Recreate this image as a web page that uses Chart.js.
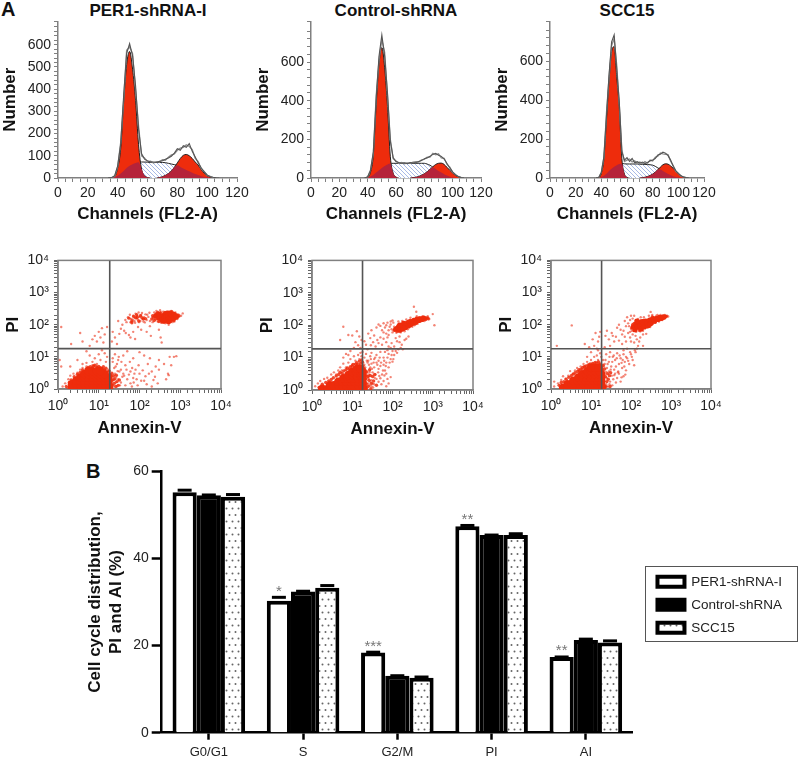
<!DOCTYPE html>
<html>
<head>
<meta charset="utf-8">
<style>
body { margin: 0; background: #fff; font-family: "Liberation Sans", Arial, sans-serif; }
#page { position: relative; width: 799px; height: 757px; overflow: hidden; }
canvas { position: absolute; }
.head { position: absolute; font-weight: bold; font-size: 17px; color: #111; text-align: center; width: 200px; line-height: 20px; top: 1px; }
.letter { position: absolute; font-weight: bold; font-size: 20px; color: #111; }
</style>
<script src="https://cdn.jsdelivr.net/npm/chart.js"></script>
</head>
<body>
<div id="page">
  <div class="letter" style="left:1px;top:-2px">A</div>
  <div class="letter" style="left:86px;top:460px">B</div>
  <div class="head" style="left:48px">PER1-shRNA-I</div>
  <div class="head" style="left:296px">Control-shRNA</div>
  <div class="head" style="left:527px">SCC15</div>
</div>
<script>
// histogram data, one value per channel bin
const channels = [34,36,38,40,42,44,46,48,50,52,54,56,58,60,62,64,66,68,70,72,74,76,78,80,82,84,86,88,90,92,94,96,98,100,102,104,106,108,110];

const h1G1 = [0,1,6,45,130,340,510,570,490,350,150,40,10,2,0,0,0,0,0,0,0,0,0,0,0,0,0,0,0,0,0,0,0,0,0,0,0,0,0];
const h1S = [0,1,5,10,20,32,45,55,62,68,71,72,72,71,70,70,70,70,70,69,66,63,60,57,50,43,36,30,24,18,13,8,5,3,1,0,0,0,0];
const h1G2 = [0,0,0,0,0,0,0,0,0,0,0,0,0,0,0,0,0,2,6,12,20,32,48,68,88,102,106,100,88,72,58,38,22,10,4,1,0,0,0];
const h1Overlap = [0,1,5,10,20,32,45,55,62,68,71,40,10,2,0,0,0,2,6,12,20,32,48,57,50,43,36,30,24,18,13,8,5,3,1,0,0,0,0];
const h1Raw = [0,2,10,55,150,370,560,605,550,415,220,110,85,78,72,72,70,75,78,84,90,98,112,132,125,145,138,155,120,95,68,46,28,14,6,3,1,0,0];
const h1RawB = [0,1,8,50,160,350,575,590,560,395,235,100,90,74,76,68,74,72,82,80,94,104,108,125,135,138,150,142,128,88,74,42,30,12,7,2,1,0,0];

const h2G1 = [0,0,0,4,30,120,380,590,675,570,370,110,25,5,0,0,0,0,0,0,0,0,0,0,0,0,0,0,0,0,0,0,0,0,0,0,0,0,0];
const h2S = [0,0,0,3,8,15,28,40,52,62,70,75,76,76,76,76,76,76,76,76,76,76,76,76,72,66,56,46,36,28,20,13,7,3,1,0,0,0,0];
const h2G2 = [0,0,0,0,0,0,0,0,0,0,0,0,0,0,0,0,0,0,0,2,4,8,14,22,32,45,58,70,76,77,70,55,40,26,14,6,2,0,0];
const h2Overlap = [0,0,0,3,8,15,28,40,52,62,70,75,25,5,0,0,0,0,0,2,4,8,14,22,32,45,56,46,36,28,20,13,7,3,1,0,0,0,0];
const h2Raw = [0,0,0,6,38,135,410,630,740,630,440,190,105,85,80,76,78,74,80,78,80,85,90,100,104,112,122,128,118,112,98,75,52,32,16,8,3,0,0];
const h2RawB = [0,0,0,5,42,128,425,610,715,650,425,200,100,88,76,80,74,78,76,82,84,82,94,96,108,108,128,120,125,104,102,70,56,28,18,7,3,0,0];

const h3G1 = [0,0,2,25,100,300,500,650,675,520,360,100,20,3,0,0,0,0,0,0,0,0,0,0,0,0,0,0,0,0,0,0,0,0,0,0,0,0,0];
const h3S = [0,0,1,5,12,22,36,48,58,66,72,75,73,72,72,72,72,72,71,70,70,69,68,66,60,52,44,36,28,20,14,9,5,2,1,0,0,0,0];
const h3G2 = [0,0,0,0,0,0,0,0,0,0,0,0,0,0,0,0,0,0,0,2,4,8,13,20,30,42,56,68,73,71,62,50,36,24,12,5,2,0,0];
const h3Overlap = [0,0,1,5,12,22,36,48,58,66,72,75,20,3,0,0,0,0,0,2,4,8,13,20,30,42,44,36,28,20,14,9,5,2,1,0,0,0,0];
const h3Raw = [0,0,3,28,110,320,530,700,736,560,390,135,92,105,85,100,78,84,76,82,74,80,88,92,100,118,122,133,128,115,92,60,38,22,12,5,2,0,0];
const h3RawB = [0,0,2,30,105,335,515,680,718,580,375,145,85,92,98,82,88,76,82,74,84,76,92,88,106,112,128,124,122,120,86,64,34,24,10,6,2,0,0];

// flow cytometry dots [annexin, PI]
const s1Core = [[2.2,1.1],[2.8,1.1],[3.5,1.1],[4.4,1.1],[5.5,1.1],[7,1.1],[9,1.1],[11,1.1],[14,1.1],[17.5,1.1],[2.2,1.4],[2.8,1.4],[3.5,1.4],[4.4,1.4],[5.5,1.4],[7,1.4],[9,1.4],[11,1.4],[14,1.4],[17.5,1.4],[2.8,1.8],[3.5,1.8],[4.4,1.8],[5.5,1.8],[7,1.8],[9,1.8],[11,1.8],[14,1.8],[17.5,1.8],[3.5,2.3],[4.4,2.3],[5.5,2.3],[7,2.3],[9,2.3],[11,2.3],[14,2.3],[17,2.3],[4.4,2.9],[5.5,2.9],[7,2.9],[9,2.9],[11,2.9],[14,2.9],[5.5,3.6],[7,3.6],[9,3.6],[11,3.6]];
const s1Cluster = [[250,190],[300,160],[300,210],[350,180],[350,140],[400,200],[400,160],[450,220],[450,175],[500,150],[500,195],[550,230],[550,170],[600,200],[600,150],[650,180],[700,210],[700,160],[780,185],[400,130],[520,125]];
const s1Edge = [[1.6,1.2],[1.9,1.6],[2,1.15],[2.1,1.9],[2.5,2.4],[2.7,2.0],[3,2.9],[3.4,2.6],[3.5,3.3],[4,3.9],[4.4,3.4],[5,4.3],[5.5,4.7],[6.2,4.9],[7,4.6],[7.5,5.2],[8,5.5],[9,4.8],[10,5],[11,4.6],[12,4.3],[13,4.9],[14,3.9],[15,4.4],[16,3.4],[18,3.6],[19,2.8],[20,2.5],[21,3.1],[22,1.9],[22,1.3],[24,1.5],[23,2.6],[25,2.1],[26,1.2],[28,1.7],[30,1.3],[21,1.1],[27,2.7],[32,1.9],
[55,160],[65,130],[72,180],[80,165],[88,170],[96,130],[105,190],[115,165],[125,150],[65,115],[85,205],[140,155],
[200,150],[210,190],[220,170],[230,135],[250,150],[260,220],[280,240],[300,125],[330,235],[370,120],[420,240],[480,120],[500,245],[580,125],[650,230],[690,135],[740,200],[800,160],[820,200],[860,180],[920,190],[620,255]];
const s1Sparse = [[45,140],[52,170],[60,120],[62,150],[70,190],[75,130],[80,220],[85,160],[90,145],[95,240],[100,175],[105,130],[110,200],[120,150],[125,125],[130,170],[140,210],[150,140],[165,175],[180,130],[48,120],[58,205],[68,145],[78,115],[88,190],[98,120],[115,230],[135,118],[155,205],[175,235],
[210,120],[230,240],[260,270],[280,125],[320,280],[340,115],[380,255],[430,110],[470,260],[520,100],[600,270],[640,120],[720,125],[760,240],[850,150],[900,210],[950,180],[1050,190],[1150,225],[880,165],
[38,100],[35,75],[30,130],[42,65],[46,55],[55,48],[60,40],[70,60],[78,36],[92,85],[110,70],[150,60],[190,45],[180,90],[300,70],[330,40],[350,28],[25,40],[28,25],[32,52],[22,60],[21,30],
[1.2,85],[3.5,55],[6,22],[8,45],[10,60],[11,40],[12,78],[13,28],[14,50],[16,85],[9,30],[7,35],[4,30],[2.1,25],
[12,16],[10,12],[8,9],[6,11],[5,15],[14,13],[16,10],[15,7],[11,8],[7,7],[9,6],[5,6.5],[4,6],[1.2,5],[1.1,8],[3,8],[2,5],
[25,12],[30,8],[40,11],[50,15],[70,9],[100,14],[130,11],[180,9],[300,8],[550,10],[700,10],[800,10.5],[22,7],[28,6],[35,4],[45,5.5],[60,3.5],[80,4],[100,3],[140,2.5],[200,3.5],[250,5],[300,4],[400,6],[520,2.7],[500,3],[600,5.5],[450,2],[25,3],[30,2],[35,1.6],[40,3],[50,2],[60,1.5],[70,2.2],[90,1.3],[110,1.8],[150,1.4],[200,1.2],[220,1.9],[280,1.5],[21,1.3],[23,2.2],[26,1.6],[24,4.5],[28,1.2],[32,3.5],[38,2.4],[45,1.3],[55,2.8],[65,1.2],[75,3],[85,2],[130,1.8],
[1.3,1.2],[1.5,1.5],[1.7,1.1],[1.8,2],[2,2.6],[2.4,3],[3,3.2],[3.5,4],[4,4.5],[5,5],[6,4.5],[7,5.5],[9,5],[10,4.5],[12,4.5],[14,4],[17,4],[19,3],[20,2],[21,1.1],[19.5,1.5],
[22,9],[26,5],[31,10],[36,7],[42,2.6],[48,4],[58,7],[66,4.5],[72,1.6],[95,5.5],[120,3.8],[160,6],[170,3],[240,2.4],[29,3.6],[33,1.3],[24,1.9],[27,2.4]];

const s2Core = [[1.8,1.1],[2.5,1.1],[3.2,1.1],[4,1.1],[5,1.1],[6.3,1.1],[8,1.1],[10,1.1],[12.5,1.1],[16,1.1],[19,1.1],[2.8,1.4],[3.5,1.4],[4.5,1.4],[5.6,1.4],[7,1.4],[9,1.4],[11,1.4],[14,1.4],[18,1.4],[4.5,1.8],[5.6,1.8],[7,1.8],[9,1.8],[11,1.8],[14,1.8],[18,1.8],[6,2.3],[7.5,2.3],[9,2.3],[11,2.3],[14,2.3],[18,2.3],[8,2.9],[10,2.9],[12.5,2.9],[16,2.9],[18,2.9],[10,3.6],[12.5,3.6],[16,3.6],[18,3.6],[13,4.5],[16,4.5]];
const s2Cluster = [[120,75],[140,85],[150,70],[170,95],[180,80],[200,100],[210,85],[230,110],[250,95],[260,125],[280,105],[300,130],[320,115],[350,140],[380,125],[400,150],[450,140],[480,155],[540,150],[600,165],[190,115],[150,100]];
const s2Edge = [[1.5,1.2],[1.8,1.5],[2.2,1.7],[2.6,1.9],[3,2.1],[3.4,2.4],[4,2.7],[4.6,3],[5,3.5],[5.6,3.3],[6.2,3.9],[7,4.2],[7.6,4.8],[8.5,4.4],[9,5.2],[10,5.4],[10.5,6.2],[12,6.3],[13,7],[14,6],[15,7.8],[16,6.5],[17,8.5],[18,7.2],[18.5,5.5],[20,4.5],[20,3],[21,2.2],[22,1.6],[23,3.6],[24,2.6],[25,1.3],[26,2],[27,4.2],[28,2.8],[30,1.6],[32,2.6],[34,1.9],[36,3],[40,1.4],[21,1.1],[29,1.1],
[110,70],[125,85],[130,65],[135,95],[155,80],[160,105],[185,100],[195,75],[215,120],[225,90],[240,105],[270,140],[290,100],[330,150],[340,125],[370,110],[395,165],[430,130],[460,170],[510,140],[520,170],[570,150],[640,160],[670,150],[720,165],[760,165],[240,130],[175,70]];
const s2Sparse = [[40,85],[45,105],[50,95],[55,70],[60,115],[65,85],[70,100],[75,120],[80,70],[85,90],[90,105],[95,75],[100,60],[105,120],[110,90],[60,60],[70,55],[80,50],[90,130],[100,140],[125,58],[140,130],[160,60],[175,135],[200,65],[220,150],[240,75],[280,170],[310,90],[350,100],[400,190],[420,110],[500,130],[560,190],[620,135],[700,175],[780,150],[750,190],[340,370],[390,260],[1000,220],[1100,100],[820,155],
[25,55],[28,40],[30,70],[33,30],[35,48],[38,22],[42,35],[45,28],[50,42],[55,25],[60,38],[70,30],[75,42],[80,22],[95,28],[110,22],[130,32],[150,30],[170,25],[160,20],[180,18],[200,35],[220,38],[250,45],[150,45],[120,40],[22,25],[20,32],[24,18],[29,24],
[6,90],[5,35],[8,50],[10,48],[12,30],[13,65],[15,45],[11,20],[9,16],[14,24],[16,20],[7,13],[17,35],
[1.2,1.3],[1.4,1.6],[1.6,1.9],[2,2.2],[2.4,2.4],[3,3],[3.5,3.5],[4,3],[4.5,4],[5,5],[5.5,4],[6,6.5],[7,5],[8,7],[9,9],[10,6],[11,11],[12,8],[13,6],[14,12],[15,9],[16,14],[17,11],[18,15],[17,7],[6,10],[8,12],
[20,10],[22,13],[25,8],[28,11],[30,14],[35,9],[40,12],[45,8],[50,15],[60,10],[70,7],[80,13],[90,9],[100,16],[110,12],[20,6],[22,4],[24,7],[26,3],[28,5],[30,6.5],[32,3.5],[35,5],[38,3],[40,7],[45,4.5],[50,5.5],[55,3],[60,6],[65,4],[70,3.2],[80,5],[90,2.5],[100,7.5],[25,1.6],[30,2],[22,1.3],[35,1.5],[40,2.2],[45,1.8],[50,2.3],[60,1.9],[70,1.3],[80,1.6],[22,2.2],[26,2.6],[24,1.2],[33,1.2],[28,1.8],[36,2.4],[30,1.3],[21,1.8],[21,3],[23,1.5],[23,2.8],[25,2.3],[27,1.4],[27,3.6],
[21,5],[23,8],[26,6],[29,9],[31,4.5],[34,7],[37,10],[42,6],[44,3.5],[48,10],[52,7],[58,4],[62,8],[68,5.5],[75,10],[85,7],[95,12],[105,9],[120,16],[130,14],[140,18],[65,15],[75,17],[90,20],[47,2.7],[53,1.5],[63,2.8],[75,2.2],[23,1.1],[32,1.6]];

const s3Core = [[2,1.1],[2.6,1.1],[3.3,1.1],[4,1.1],[5,1.1],[6.3,1.1],[8,1.1],[10,1.1],[12.5,1.1],[16,1.1],[19,1.1],[2.6,1.4],[3.3,1.4],[4.2,1.4],[5.3,1.4],[6.6,1.4],[8.5,1.4],[11,1.4],[14,1.4],[18,1.4],[3.6,1.8],[4.6,1.8],[5.8,1.8],[7.3,1.8],[9,1.8],[11.5,1.8],[14.5,1.8],[18,1.8],[4.8,2.3],[6,2.3],[7.5,2.3],[9.5,2.3],[12,2.3],[15,2.3],[18,2.3],[6,2.9],[7.5,2.9],[9.5,2.9],[12,2.9],[15,2.9],[18,2.9],[8,3.6],[10,3.6],[12.5,3.6],[16,3.6],[10,4.6],[12.5,4.6],[15.5,4.6]];
const s3Cluster = [[115,85],[125,70],[135,105],[145,85],[160,115],[165,90],[180,75],[190,125],[200,100],[215,85],[230,130],[250,110],[270,95],[290,140],[320,120],[350,150],[380,130],[420,155],[470,145],[520,170],[580,160],[650,175],[140,130],[300,105]];
const s3Edge = [[1.6,1.3],[1.8,1.6],[2.1,1.7],[2.4,2],[2.8,2.3],[3.2,2.6],[3.6,2.9],[4,3.2],[4.6,3.5],[5,4],[5.6,4.1],[6.2,4.7],[6.8,4.9],[7.5,5.2],[8.5,5.6],[9.5,6],[11,6.2],[12.5,6.6],[14,6.5],[15.5,7],[17,6],[18,5],[19,4.2],[20,3.6],[20,2.6],[21,1.7],[23,2.4],[23,1.2],[25,1.7],[26,3],[27,2],[29,2.6],[30,1.2],[31,3.2],[20,5.5],[22,4.2],
[105,80],[110,100],[120,110],[125,90],[130,75],[150,120],[155,75],[170,130],[175,95],[190,85],[205,135],[225,100],[245,135],[260,85],[285,115],[310,150],[330,105],[365,165],[400,120],[440,165],[490,170],[550,145],[610,180],[680,160],[720,185],[760,180],[340,175],[170,65]];
const s3Sparse = [[70,130],[80,170],[85,110],[90,90],[95,140],[100,190],[105,65],[75,90],[95,60],[110,155],[120,190],[135,60],[150,150],[155,65],[175,170],[200,65],[210,170],[240,85],[280,190],[300,85],[340,200],[350,105],[410,115],[430,190],[500,125],[550,200],[600,140],[700,200],[740,170],[800,190],[310,250],[850,180],[460,200],
[45,80],[50,100],[55,70],[60,50],[65,65],[70,42],[75,30],[85,55],[95,40],[100,30],[110,50],[120,28],[130,45],[140,35],[150,22],[160,30],[170,40],[200,22],[200,50],[240,52],[100,75],[60,25],[50,32],[42,42],[38,30],[33,55],[28,35],[25,65],[23,45],[22,20],[30,22],[35,45],
[3.3,95],[1.4,22],[7,25],[9,20],[12,22],[13,55],[15,30],[15,16],[17,60],[11,35],[16,42],[14,18],
[1.2,1.2],[1.2,1.7],[1.5,1.5],[1.8,1.9],[2,2.5],[2.3,2.1],[2.7,2.6],[3,3.6],[3.5,3],[4,3.8],[4.5,4.5],[5,3.6],[5.5,5],[6,4.2],[6.5,6],[7,5],[8,7],[9,5.8],[10,8],[11,6],[12,10],[13,7],[14,11],[15,8],[16,6],[17,13],[18,10],[10,14],[8,10],
[20,8],[22,6],[24,12],[25,4.5],[28,7],[30,14],[32,5],[35,10],[38,4],[40,8],[45,13],[50,6],[55,9],[60,4.5],[65,12],[70,7],[75,3.8],[80,9],[90,6],[100,12],[110,8],[130,14],[120,5.5],[22,3],[25,2.2],[28,3.5],[30,1.7],[33,2.6],[36,2],[40,3],[45,2.2],[21,1.3],[24,1.4],[27,1.2],[21,2],[34,1.3],[50,3],[55,1.7],[65,2.5],
[21,5],[23,8],[26,6],[29,10],[31,4],[34,7],[37,11],[42,5],[44,9],[48,3.5],[52,11],[58,6.5],[62,8],[68,5],[75,10],[85,7.5],[95,14],[105,10],[125,16],[140,18],[65,16],[80,18],[24,3.4],[29,1.4],[38,2.7],[42,1.6],[47,3.3],[58,2.3],[72,2.8],[25,1.2]];

const logTickLabels = { 1: '10⁰', 10: '10¹', 100: '10²', 1000: '10³', 10000: '10⁴' };

// bar chart data
const barCategories = ['G0/G1', 'S', 'G2/M', 'PI', 'AI'];
const barSeriesNames = ['PER1-shRNA-I', 'Control-shRNA', 'SCC15'];
const per1Values = [55.2, 30.3, 18.4, 47.4, 17.4];
const controlValues = [54.5, 32.4, 13.1, 45.4, 21.3];
const scc15Values = [54.2, 33.3, 12.6, 45.4, 20.7];
const per1Errors = [0.6, 0.9, 0.2, 0.3, 0.1];
const controlErrors = [0.2, 0.2, 0.1, 0.1, 0.3];
const scc15Errors = [0.6, 0.6, 0.3, 0.4, 0.5];
const per1Marks = ['', '*', '***', '**', '**'];

const page = document.getElementById('page');
const FONT = '"Liberation Sans", Arial, sans-serif';
const AXIS_GREY = '#808080';
const RED = '#ee2c0c';

function addCanvas(left, top, width, height) {
    const c = document.createElement('canvas');
    c.width = width;
    c.height = height;
    c.style.left = left + 'px';
    c.style.top = top + 'px';
    page.appendChild(c);
    return c.getContext('2d');
}

function makePattern(w, h, paint) {
    const tile = document.createElement('canvas');
    tile.width = w;
    tile.height = h;
    const t = tile.getContext('2d');
    t.fillStyle = '#fff';
    t.fillRect(0, 0, w, h);
    paint(t);
    return t.createPattern(tile, 'repeat');
}

const hatch = makePattern(4, 4, t => {
    t.strokeStyle = '#a9bae6';
    t.lineWidth = 1;
    t.beginPath();
    t.moveTo(-1, -1);
    t.lineTo(5, 5);
    t.moveTo(-1, 3);
    t.lineTo(1, 5);
    t.moveTo(3, -1);
    t.lineTo(5, 1);
    t.stroke();
});

const dots = makePattern(6, 13, t => {
    t.fillStyle = '#666';
    t.beginPath();
    t.arc(1.5, 3, 1, 0, Math.PI * 2);
    t.arc(4.5, 9.5, 1, 0, Math.PI * 2);
    t.fill();
});

const toPoints = values => values.map((v, i) => ({ x: channels[i], y: v }));
const hideZero = ctx => (ctx.p0.parsed.y === 0 && ctx.p1.parsed.y === 0 ? 'transparent' : undefined);

function area(values, fill, border, width) {
    return {
        data: toPoints(values),
        fill: 'origin',
        backgroundColor: fill,
        borderColor: border,
        borderWidth: width,
        pointRadius: 0,
        cubicInterpolationMode: 'monotone',
        segment: { borderColor: hideZero }
    };
}

function rawLine(values, color, width) {
    return { data: toPoints(values), borderColor: color, borderWidth: width, pointRadius: 0, fill: false, segment: { borderColor: hideZero } };
}

function histogram(box, yMax, yStep, yLabelStep, series) {
    const ctx = addCanvas(box.left - 58, box.top - 10, box.right - box.left + 58 + 22, box.bottom - box.top + 10 + 47);
    new Chart(ctx, {
        type: 'line',
        data: {
            datasets: [
                rawLine(series.raw, '#555', 1.1),
                rawLine(series.rawB, '#8c8c8c', 1.3),
                area(series.overlap, '#b5233a', 'transparent', 0),
                area(series.g1, RED, '#222', 1),
                area(series.g2, RED, '#222', 1),
                area(series.s, hatch, '#222', 1)
            ]
        },
        options: {
            responsive: false,
            animation: false,
            layout: { padding: { top: 10, right: 22 } },
            plugins: { legend: { display: false }, tooltip: { enabled: false } },
            scales: {
                x: {
                    type: 'linear',
                    min: 0,
                    max: 120,
                    afterFit: s => { s.height = 47; },
                    grid: { drawOnChartArea: false, tickLength: 4, tickColor: AXIS_GREY },
                    border: { color: AXIS_GREY, width: 1.5 },
                    ticks: {
                        stepSize: 5,
                        autoSkip: false,
                        maxRotation: 0,
                        padding: 3,
                        color: '#222',
                        font: { family: FONT, size: 14 },
                        callback: v => (v % 20 === 0 ? v : '')
                    },
                    title: { display: true, text: 'Channels (FL2-A)', color: '#111', padding: 0, font: { family: FONT, size: 17, weight: 'bold' } }
                },
                y: {
                    min: 0,
                    max: yMax,
                    afterFit: s => { s.width = 58; },
                    grid: { drawOnChartArea: false, tickLength: 4, tickColor: AXIS_GREY },
                    border: { color: AXIS_GREY, width: 1.5 },
                    ticks: {
                        stepSize: yStep,
                        autoSkip: false,
                        padding: 3,
                        color: '#222',
                        font: { family: FONT, size: 14 },
                        callback: v => (v % yLabelStep === 0 ? v : '')
                    },
                    title: { display: true, text: 'Number', color: '#111', padding: 0, font: { family: FONT, size: 17, weight: 'bold' } }
                }
            }
        }
    });
}

const framePlugin = {
    id: 'frame',
    beforeDatasetsDraw(chart) {
        const { ctx, chartArea: a } = chart;
        ctx.save();
        ctx.strokeStyle = AXIS_GREY;
        ctx.lineWidth = 1.5;
        ctx.strokeRect(a.left, a.top, a.right - a.left, a.bottom - a.top);
        ctx.restore();
    }
};

const toXY = pairs => pairs.map(p => ({ x: p[0], y: p[1] }));

function dotSet(pairs, radius, color) {
    return { data: toXY(pairs), pointRadius: radius, pointBorderWidth: 0, pointBackgroundColor: color, showLine: false };
}

function gateLine(points) {
    return { data: toXY(points), showLine: true, borderColor: '#555', borderWidth: 1.6, pointRadius: 0 };
}

function logAxis(titleText, side) {
    return {
        type: 'logarithmic',
        min: 1,
        max: 10000,
        afterFit: side === 'x' ? s => { s.height = 50; } : s => { s.width = 55; },
        grid: { drawOnChartArea: false, tickLength: 4, tickColor: '#666' },
        border: { color: AXIS_GREY, width: 1.5 },
        ticks: {
            autoSkip: false,
            maxRotation: 0,
            padding: 5,
            color: '#222',
            font: { family: FONT, size: 14 },
            callback: v => logTickLabels[v] || ''
        },
        title: { display: true, text: titleText, color: '#111', padding: 0, font: { family: FONT, size: 17, weight: 'bold' } }
    };
}

function dotPlot(box, gateX, gateY, core, cluster, edge, sparse) {
    const ctx = addCanvas(box.left - 55, box.top - 10, box.right - box.left + 55 + 22, box.bottom - box.top + 10 + 50);
    new Chart(ctx, {
        type: 'scatter',
        data: {
            datasets: [
                gateLine([[gateX, 1], [gateX, 10000]]),
                gateLine([[1, gateY], [10000, gateY]]),
                dotSet(core, 4.2, RED),
                dotSet(cluster, 2.6, RED),
                dotSet(edge, 1.7, 'rgba(238,44,12,0.85)'),
                dotSet(sparse, 1.2, 'rgba(235,50,25,0.6)')
            ]
        },
        options: {
            responsive: false,
            animation: false,
            layout: { padding: { top: 10, right: 22 } },
            plugins: { legend: { display: false }, tooltip: { enabled: false } },
            scales: { x: logAxis('Annexin-V', 'x'), y: logAxis('PI', 'y') }
        },
        plugins: [framePlugin]
    });
}

histogram({ left: 58, right: 237, top: 20, bottom: 178 }, 705, 20, 100,
    { g1: h1G1, s: h1S, g2: h1G2, overlap: h1Overlap, raw: h1Raw, rawB: h1RawB });
histogram({ left: 311, right: 481, top: 20, bottom: 178 }, 810, 40, 200,
    { g1: h2G1, s: h2S, g2: h2G2, overlap: h2Overlap, raw: h2Raw, rawB: h2RawB });
histogram({ left: 550, right: 704, top: 20, bottom: 178 }, 805, 40, 200,
    { g1: h3G1, s: h3S, g2: h3G2, overlap: h3Overlap, raw: h3Raw, rawB: h3RawB });

dotPlot({ left: 58, right: 221, top: 257, bottom: 389 }, 18.6, 18, s1Core, s1Cluster, s1Edge, s1Sparse);
dotPlot({ left: 312, right: 473, top: 257, bottom: 390 }, 18, 18.6, s2Core, s2Cluster, s2Edge, s2Sparse);
dotPlot({ left: 551, right: 711, top: 257, bottom: 389 }, 18.4, 17.9, s3Core, s3Cluster, s3Edge, s3Sparse);

// error caps and significance marks for the bars, plus the legend frame
const barDecor = {
    id: 'barDecor',
    afterLayout(chart) {
        chart.legend.left += 15;
        chart.legend.right += 15;
        chart.legend.top -= 8;
        chart.legend.bottom -= 8;
    },
    afterDatasetsDraw(chart) {
        const { ctx, scales } = chart;
        const errors = [per1Errors, controlErrors, scc15Errors];
        ctx.save();
        ctx.strokeStyle = '#000';
        ctx.lineWidth = 3;
        errors.forEach((errs, d) => {
            const meta = chart.getDatasetMeta(d);
            const vals = chart.data.datasets[d].data;
            meta.data.forEach((bar, i) => {
                const y = scales.y.getPixelForValue(vals[i] + errs[i]) + 0.5;
                ctx.beginPath();
                ctx.moveTo(bar.x - 7, y);
                ctx.lineTo(bar.x + 7, y);
                ctx.stroke();
            });
        });
        ctx.fillStyle = '#777';
        ctx.font = '15px ' + FONT;
        ctx.textAlign = 'center';
        chart.getDatasetMeta(0).data.forEach((bar, i) => {
            const y = scales.y.getPixelForValue(per1Values[i] + per1Errors[i]) - 1;
            ctx.fillText(per1Marks[i], bar.x, y);
        });
        ctx.restore();
    },
    afterDraw(chart) {
        const { ctx } = chart;
        ctx.save();
        ctx.strokeStyle = '#555';
        ctx.lineWidth = 1;
        ctx.strokeRect(585.5, 106.5, 152, 75);
        ctx.restore();
    }
};

const barCtx = addCanvas(60, 460, 739, 297);
new Chart(barCtx, {
    type: 'bar',
    data: {
        labels: barCategories,
        datasets: [
            { label: barSeriesNames[0], data: per1Values, backgroundColor: '#fff', borderColor: '#000', borderWidth: 4 },
            { label: barSeriesNames[1], data: controlValues, backgroundColor: '#000', borderColor: '#000', borderWidth: 4 },
            { label: barSeriesNames[2], data: scc15Values, backgroundColor: dots, borderColor: '#000', borderWidth: 4 }
        ]
    },
    options: {
        responsive: false,
        animation: false,
        layout: { padding: { top: 8.7, right: 22 } },
        datasets: { bar: { categoryPercentage: 0.77, barPercentage: 1 } },
        plugins: {
            tooltip: { enabled: false },
            legend: {
                position: 'right',
                labels: { boxWidth: 27, boxHeight: 10, padding: 9.5, color: '#222', font: { family: FONT, size: 13.5 } }
            }
        },
        scales: {
            x: {
                afterFit: s => { s.height = 24.3; },
                grid: { offset: false, drawOnChartArea: false, tickLength: 7, tickWidth: 2.5, tickColor: '#000' },
                border: { color: '#000', width: 2.5 },
                ticks: { padding: 5, color: '#222', font: { family: FONT, size: 13 } }
            },
            y: {
                min: 0,
                max: 60,
                afterFit: s => { s.width = 101.7; },
                grid: { drawOnChartArea: false, tickLength: 10, tickWidth: 2.5, tickColor: '#000' },
                border: { color: '#000', width: 2.5 },
                ticks: { stepSize: 20, padding: 3, color: '#222', font: { family: FONT, size: 14 } },
                title: {
                    display: true,
                    text: ['Cell cycle distribution,', 'PI and AI (%)'],
                    color: '#111',
                    padding: { top: 25, bottom: 0 },
                    font: { family: FONT, size: 17, weight: 'bold', lineHeight: 1.22 }
                }
            }
        }
    },
    plugins: [barDecor]
});
</script>
</body>
</html>
